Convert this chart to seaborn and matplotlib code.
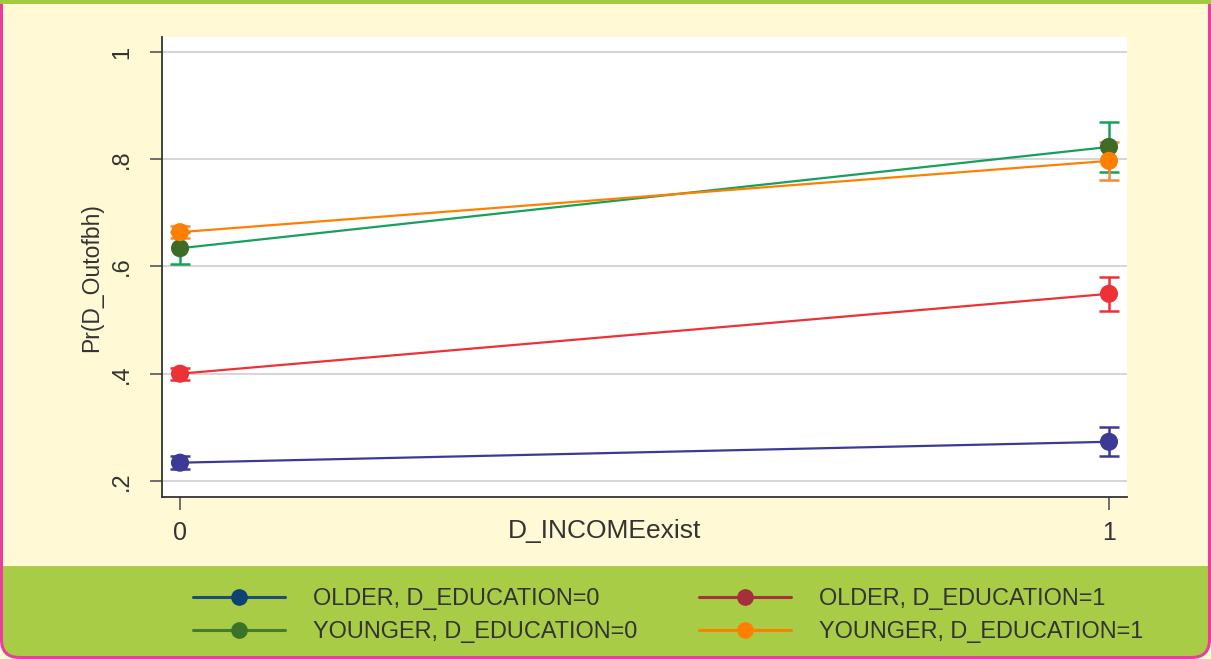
import matplotlib
matplotlib.use("Agg")
import matplotlib.pyplot as plt
from matplotlib.patches import FancyBboxPatch, Rectangle
from matplotlib.lines import Line2D
import seaborn as sns
import pandas as pd

# Predictive margins of Pr(D_Outofbh) by D_INCOMEexist
income = [0, 1]
groups = ["OLDER, D_EDUCATION=0", "OLDER, D_EDUCATION=1",
          "YOUNGER, D_EDUCATION=0", "YOUNGER, D_EDUCATION=1"]
older_edu0 = [0.234, 0.273]
older_edu0_lo = [0.222, 0.246]
older_edu0_hi = [0.247, 0.300]
older_edu1 = [0.400, 0.549]
older_edu1_lo = [0.389, 0.517]
older_edu1_hi = [0.411, 0.580]
younger_edu0 = [0.634, 0.823]
younger_edu0_lo = [0.604, 0.776]
younger_edu0_hi = [0.664, 0.869]
younger_edu1 = [0.664, 0.797]
younger_edu1_lo = [0.653, 0.761]
younger_edu1_hi = [0.675, 0.832]

yticks = [0.2, 0.4, 0.6, 0.8, 1.0]
ytick_labels = [".2", ".4", ".6", ".8", "1"]
xticks = [0, 1]
xtick_labels = ["0", "1"]

means = [older_edu0, older_edu1, younger_edu0, younger_edu1]
lows = [older_edu0_lo, older_edu1_lo, younger_edu0_lo, younger_edu1_lo]
highs = [older_edu0_hi, older_edu1_hi, younger_edu0_hi, younger_edu1_hi]

rows = []
for g, m, lo, hi in zip(groups, means, lows, highs):
    for x, v, a, b in zip(income, m, lo, hi):
        rows.append({"D_INCOMEexist": x, "margin": v, "lo": a, "hi": b, "group": g})
df = pd.DataFrame(rows)

line_colors = {groups[0]: "#3b3b97", groups[1]: "#ec3237",
               groups[2]: "#16a05d", groups[3]: "#ff8000"}
marker_colors = {groups[0]: "#3b3b97", groups[1]: "#ec3237",
                 groups[2]: "#3e6b26", groups[3]: "#ff8000"}
bar_colors = {groups[0]: "#3b3b97", groups[1]: "#ec3237",
              groups[2]: "#16a05d", groups[3]: "#f28a3e"}
legend_colors = {groups[0]: ("#1d4b7a", "#0f4274"), groups[1]: ("#a8323c", "#a52f3a"),
                 groups[2]: ("#3f7f2e", "#3a7227"), groups[3]: ("#ff8000", "#ff8000")}

sns.set_theme(style="white")
plt.rcParams["font.family"] = ["Liberation Sans", "DejaVu Sans"]

W, H = 1211, 659
fig = plt.figure(figsize=(W / 100, H / 100), dpi=100)
fig.patch.set_facecolor("#fff9d6")

# Frame: cream page, green legend band, pink rounded outline, green top rule
bg = fig.add_axes([0, 0, 1, 1], zorder=-5)
bg.set_xlim(0, W)
bg.set_ylim(0, H)
bg.axis("off")
bg.add_patch(FancyBboxPatch((1.5, 1.5), W - 3, 91, boxstyle="round,pad=0,rounding_size=18",
                            facecolor="#a9cc46", edgecolor="none"))
bg.add_patch(Rectangle((1.5, 40), W - 3, 53, facecolor="#a9cc46", edgecolor="none"))
bg.add_patch(FancyBboxPatch((1.5, 1.5), W - 3, 760, boxstyle="round,pad=0,rounding_size=18",
                            facecolor="none", edgecolor="#e8409a", linewidth=2.2))
bg.add_patch(Rectangle((0, H - 4), W, 4, facecolor="#a3c940", edgecolor="none"))

ax = fig.add_axes([162 / W, 1 - 497 / H, (1127 - 162) / W, (497 - 37) / H])
ax.set_facecolor("white")

sns.lineplot(data=df, x="D_INCOMEexist", y="margin", hue="group", hue_order=groups,
             palette=line_colors, linewidth=1.6, legend=False, ax=ax, zorder=3)
for g in groups:
    sub = df[df["group"] == g]
    ax.errorbar(sub["D_INCOMEexist"], sub["margin"],
                yerr=[sub["margin"] - sub["lo"], sub["hi"] - sub["margin"]],
                fmt="none", ecolor=bar_colors[g], elinewidth=1.8, capsize=7,
                capthick=1.8, zorder=2)
sns.scatterplot(data=df, x="D_INCOMEexist", y="margin", hue="group", hue_order=groups,
                palette=marker_colors, s=170, edgecolor="none", legend=False,
                ax=ax, zorder=4)

ax.set_xlim(-0.0194, 1.0194)
ax.set_ylim(0.170, 1.028)
ax.set_yticks(yticks)
ax.set_yticklabels(ytick_labels, rotation=90, va="center", fontsize=17, color="#333333")
ax.set_xticks(xticks)
ax.set_xticklabels(xtick_labels, fontsize=18, color="#333333")
ax.tick_params(axis="both", direction="out", length=9, width=1.2, color="#555555",
               left=True, bottom=True, pad=12)
ax.tick_params(axis="x", pad=8)
ax.grid(axis="y", color="#d6d6d6", linewidth=1.5, zorder=0)
ax.set_axisbelow(True)
for side in ["top", "right"]:
    ax.spines[side].set_visible(False)
for side in ["left", "bottom"]:
    ax.spines[side].set_color("#333333")
    ax.spines[side].set_linewidth(1.3)
ax.set_xlabel("")
ax.set_ylabel("")

fig.text(605 / W, 1 - 531 / H, "D_INCOMEexist", ha="center", va="center",
         fontsize=19, color="#333333")
fig.text(92 / W, 1 - 278 / H, "Pr(D_Outofbh)", ha="center", va="center",
         rotation=90, fontsize=16.5, color="#333333")

handles = [Line2D([0], [0], color=legend_colors[g][0], linewidth=2.2, marker="o",
                  markersize=11, markerfacecolor=legend_colors[g][1],
                  markeredgecolor=legend_colors[g][1]) for g in groups]
order = [0, 2, 1, 3]
fig.legend([handles[i] for i in order], [groups[i] for i in order],
           loc="center", bbox_to_anchor=(668 / W, 1 - 615 / H), ncol=2,
           frameon=False, fontsize=16.9, handlelength=3.92, handletextpad=1.19,
           columnspacing=2.64, labelspacing=0.42, labelcolor="#333333")

fig.savefig("out.png", dpi=100, facecolor=fig.get_facecolor())
